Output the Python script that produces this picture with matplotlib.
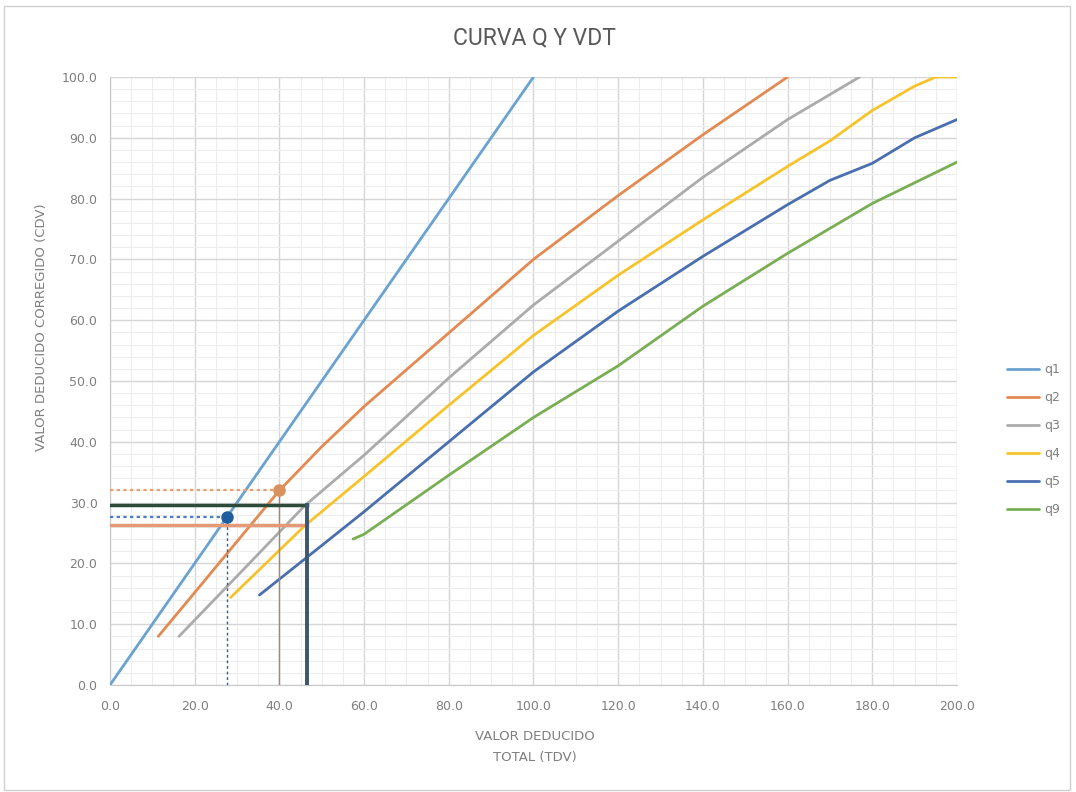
import matplotlib
matplotlib.use("Agg")
import matplotlib.pyplot as plt
from matplotlib.ticker import MultipleLocator, FormatStrFormatter
from matplotlib.patches import Rectangle

# ---- data ----
q1_x = [0, 100]
q1_y = [0, 100]
q2_x = [11.4, 20, 30, 40, 50, 60, 80, 100, 120, 140, 160]
q2_y = [8.0, 15.2, 23.6, 32.0, 39.2, 45.8, 57.9, 70.0, 80.5, 90.5, 100.0]
q3_x = [16.3, 30, 46, 60, 80, 100, 120, 140, 160, 177]
q3_y = [8.0, 17.9, 29.5, 37.8, 50.5, 62.5, 73.0, 83.5, 93.0, 100.0]
q4_x = [28.5, 46, 60, 80, 100, 120, 140, 160, 170, 180, 190, 195, 200]
q4_y = [14.4, 26.2, 34.3, 46.0, 57.5, 67.4, 76.5, 85.3, 89.5, 94.5, 98.5, 100.0, 100.0]
q5_x = [35.3, 46.5, 60, 80, 100, 120, 140, 160, 170, 180, 190, 200]
q5_y = [14.8, 21.0, 28.5, 40.0, 51.5, 61.5, 70.5, 79.0, 83.0, 85.8, 90.0, 93.0]
q9_x = [57.4, 60, 80, 100, 120, 140, 160, 180, 200]
q9_y = [24.0, 24.8, 34.5, 44.0, 52.5, 62.3, 71.0, 79.2, 86.0]

series_names = ["q1", "q2", "q3", "q4", "q5", "q9"]
series_colors = ["#6AA2D2", "#E38A52", "#ABABAB", "#F6C42A", "#4A6FAE", "#7AAE55"]

# reading points
tdv_total = 46.5      # total deducted value
cdv_max = 29.6        # max corrected deducted value
cdv_q2_line = 26.3
pt_blue = (27.7, 27.6)
pt_orange = (40.0, 32.0)

# ---- figure ----
fig = plt.figure(figsize=(10.76, 7.92), dpi=100)
fig.patch.set_facecolor("white")
fig.patches.append(Rectangle((0.004, 0.003), 0.99, 0.99, transform=fig.transFigure,
                             fill=False, edgecolor="#D0D0D0", linewidth=1.0))
ax = fig.add_axes([0.1022, 0.1351, 0.7872, 0.7677])

xs = [q1_x, q2_x, q3_x, q4_x, q5_x, q9_x]
ys = [q1_y, q2_y, q3_y, q4_y, q5_y, q9_y]
lines = []
for x, y, n, c in zip(xs, ys, series_names, series_colors):
    ln, = ax.plot(x, y, color=c, linewidth=2.0, label=n, zorder=3,
                  solid_capstyle="round", solid_joinstyle="round")
    lines.append(ln)

# reading lines
ax.plot([0, pt_orange[0]], [pt_orange[1], pt_orange[1]], color="#E9A070", linewidth=1.6,
        linestyle=(0, (1.5, 1.5)), zorder=4)
ax.plot([pt_orange[0], pt_orange[0]], [0, pt_orange[1]], color="#A08878", linewidth=1.0, zorder=4)
ax.plot([0, pt_blue[0]], [pt_blue[1], pt_blue[1]], color="#4A7FC0", linewidth=1.6,
        linestyle=(0, (1.5, 1.5)), zorder=4)
ax.plot([pt_blue[0], pt_blue[0]], [0, pt_blue[1]], color="#2F5F9A", linewidth=1.0,
        linestyle=(0, (2, 2)), zorder=4)
ax.plot([0, tdv_total], [cdv_q2_line, cdv_q2_line], color="#E39A75", linewidth=2.5, zorder=4)
ax.plot([0, tdv_total], [cdv_max, cdv_max], color="#2E4A38", linewidth=2.5, zorder=5)
ax.plot([tdv_total, tdv_total], [0, cdv_max], color="#3C566E", linewidth=2.8, zorder=5)
ax.plot([pt_orange[0]], [pt_orange[1]], "o", color="#D9925E", markersize=8, zorder=6)
ax.plot([pt_blue[0]], [pt_blue[1]], "o", color="#1F5E9E", markersize=8, zorder=6)

ax.set_xlim(0, 200)
ax.set_ylim(0, 100)
ax.xaxis.set_major_locator(MultipleLocator(20))
ax.xaxis.set_minor_locator(MultipleLocator(5))
ax.yaxis.set_major_locator(MultipleLocator(10))
ax.yaxis.set_minor_locator(MultipleLocator(2))
ax.xaxis.set_major_formatter(FormatStrFormatter("%.1f"))
ax.yaxis.set_major_formatter(FormatStrFormatter("%.1f"))
ax.grid(which="major", color="#D6D6D6", linewidth=1.0, zorder=0)
ax.grid(which="minor", color="#EDEDED", linewidth=0.8, zorder=0)
ax.set_axisbelow(True)
for s in ["top", "right"]:
    ax.spines[s].set_visible(False)
for s in ["left", "bottom"]:
    ax.spines[s].set_color("#C8C8C8")
ax.tick_params(which="both", length=0, colors="#7F7F7F", labelsize=9)
ax.tick_params(axis="x", pad=11)
ax.tick_params(axis="y", pad=9)

fig.text(0.497, 0.952, "CURVA Q Y VDT", ha="center", va="center", fontsize=16.5,
         color="#595959", family=["Roboto", "DejaVu Sans"])
fig.text(0.497, 0.057, "VALOR DEDUCIDO\nTOTAL (TDV)", ha="center", va="center",
         fontsize=9.5, color="#7F7F7F", linespacing=1.8)
fig.text(0.039, 0.587, "VALOR DEDUCIDO CORREGIDO (CDV)", ha="center", va="center",
         rotation=90, fontsize=9.5, color="#7F7F7F")

leg = fig.legend(handles=lines, labels=series_names, loc="center left",
                 bbox_to_anchor=(0.925, 0.445), frameon=False, fontsize=9,
                 handlelength=2.6, labelspacing=1.2, handletextpad=0.4)
for t in leg.get_texts():
    t.set_color("#7F7F7F")

fig.savefig("out.png", dpi=100)
